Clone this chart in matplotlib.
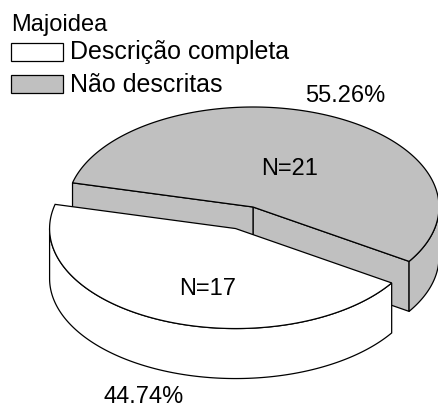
import numpy as np
import matplotlib
matplotlib.use("Agg")
import matplotlib.pyplot as plt
from matplotlib.patches import Polygon, Rectangle

# ---- data ----
legend_title = "Majoidea"
categories = ["Descrição completa", "Não descritas"]
counts = [17, 21]
percent_labels = ["44.74%", "55.26%"]
colors = ["#FFFFFF", "#C0C0C0"]

# ---- geometry (pixel space) ----
W, H = 438, 409
fig = plt.figure(figsize=(W / 100, H / 100), dpi=100)
ax = fig.add_axes([0, 0, 1, 1])
ax.set_xlim(0, W)
ax.set_ylim(H, 0)
ax.axis("off")

CX, CY = 253.0, 207.0   # pie centre (top face)
A, B = 186.0, 100.0     # ellipse semi-axes
DEPTH = 50.0
START = 166.0           # start angle of first slice (deg, ccw)
EXPLODE = [0.235, 0.0]
LW = 0.9
FONT = "Liberation Sans"
FS = 17
FS_LEG = 18

total = float(sum(counts))
fracs = [c / total for c in counts]

def pt(cx, cy, t, z=0.0):
    r = np.radians(t)
    return (cx + A * np.cos(r), cy - B * np.sin(r) + z)

def arc(cx, cy, t0, t1, z=0.0, n=200):
    ts = np.linspace(t0, t1, n)
    return [pt(cx, cy, t, z) for t in ts]

def poly(pts, fc, zorder):
    ax.add_patch(Polygon(pts, closed=True, facecolor=fc, edgecolor="black",
                         linewidth=LW, joinstyle="miter", zorder=zorder))

# slice angle ranges
ranges = []
t = START
for f in fracs:
    ranges.append((t, t + 360 * f))
    t += 360 * f

def draw_slice(i, base_z):
    t0, t1 = ranges[i]
    mid = np.radians((t0 + t1) / 2)
    cx = CX + EXPLODE[i] * A * np.cos(mid)
    cy = CY - EXPLODE[i] * B * np.sin(mid)
    fc = colors[i]
    C = (cx, cy)
    # radial faces (visible when facing the viewer)
    for ta, sign in ((t0, -1), (t1, +1)):
        normal = ta + sign * 90
        if np.sin(np.radians(normal)) < 0:  # faces front
            P = pt(cx, cy, ta)
            poly([C, P, (P[0], P[1] + DEPTH), (C[0], C[1] + DEPTH)], fc, base_z)
    # front outer wall: angles in (180, 360) mod 360
    segs = []
    for k in range(-1, 3):
        lo, hi = 180 + 360 * k, 360 + 360 * k
        a0, a1 = max(t0, lo), min(t1, hi)
        if a1 > a0:
            segs.append((a0, a1))
    for a0, a1 in segs:
        top = arc(cx, cy, a0, a1)
        bot = arc(cx, cy, a0, a1, DEPTH)[::-1]
        poly(top + bot, fc, base_z + 1)
    # top face
    poly([C] + arc(cx, cy, t0, t1), fc, base_z + 2)
    return cx, cy

gx, gy = draw_slice(1, 1)
wx, wy = draw_slice(0, 10)

# labels inside slices
ax.text(290, 175, f"N={counts[1]}", fontsize=FS, family=FONT, ha="center",
        va="baseline", zorder=20)
ax.text(208, 295, f"N={counts[0]}", fontsize=FS, family=FONT, ha="center",
        va="baseline", zorder=20)
# percent labels
ax.text(345, 102, percent_labels[1], fontsize=FS, family=FONT, ha="center",
        va="baseline", zorder=20)
ax.text(144, 403, percent_labels[0], fontsize=FS, family=FONT, ha="center",
        va="baseline", zorder=20)

# legend
ax.text(11.5, 31.5, legend_title, fontsize=FS, family=FONT, ha="left",
        va="baseline", zorder=20)
box_y = [43, 75]
base_y = [59.5, 91.5]
for i in range(2):
    ax.add_patch(Rectangle((11, box_y[i]), 52, 18, facecolor=colors[i],
                           edgecolor="black", linewidth=LW, zorder=20))
    ax.text(70, base_y[i], categories[i], fontsize=FS_LEG, family=FONT,
            ha="left", va="baseline", zorder=20)

fig.savefig("out.png", dpi=100)
